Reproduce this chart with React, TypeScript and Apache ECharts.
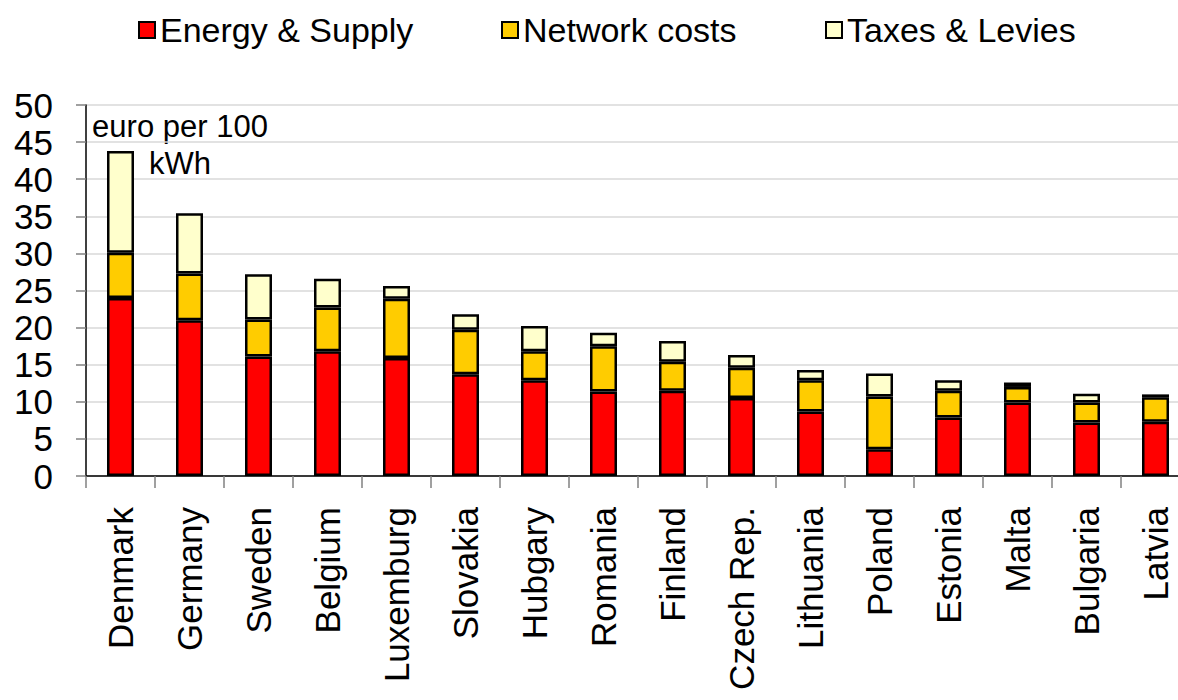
import React, { useEffect, useRef } from "react";
import * as echarts from "echarts";

const categories = [
  "Denmark", "Germany", "Sweden", "Belgium", "Luxemburg", "Slovakia", "Hubgary", "Romania",
  "Finland", "Czech Rep.", "Lithuania", "Poland", "Estonia", "Malta", "Bulgaria", "Latvia",
];
const energySupply = [24.0, 21.0, 16.1, 16.8, 15.9, 13.7, 12.9, 11.4, 11.5, 10.5, 8.7, 3.6, 7.9, 9.9, 7.2, 7.3];
const networkCosts = [6.1, 6.3, 5.0, 5.9, 8.0, 6.0, 3.9, 6.1, 3.9, 4.1, 4.2, 7.1, 3.6, 2.1, 2.7, 3.3];
const taxesLevies = [13.7, 8.1, 6.1, 3.9, 1.7, 2.1, 3.4, 1.8, 2.8, 1.7, 1.4, 3.1, 1.4, 0.6, 1.2, 0.4];
const seriesNames = ["Energy & Supply", "Network costs", "Taxes & Levies"];
const seriesColors = ["#ff0000", "#ffcc00", "#ffffcc"];

const FONT = '"Liberation Sans", Arial, sans-serif';

export default function App() {
  const ref = useRef<HTMLDivElement>(null);
  useEffect(() => {
    if (!ref.current) return;
    const chart = echarts.init(ref.current, null, { renderer: "svg" });
    const data = [energySupply, networkCosts, taxesLevies];
    const legendLefts = [133, 496, 820];
    chart.setOption({
      animation: false,
      backgroundColor: "#ffffff",
      textStyle: { fontFamily: FONT, color: "#000" },
      legend: seriesNames.map((n, i) => ({
        data: [{ name: n, icon: "rect" }],
        left: legendLefts[i],
        top: 8,
        itemWidth: 16,
        itemHeight: 16,
        textStyle: { fontSize: 34, color: "#000", fontFamily: FONT },
      })),
      grid: { left: 86, top: 105, bottom: 224, right: 0 },
      xAxis: {
        type: "category",
        data: categories,
        axisLine: { lineStyle: { color: "#000", width: 1.5 } },
        axisTick: { show: true, length: 12, lineStyle: { color: "#808080", width: 1.5 } },
        axisLabel: { rotate: 90, fontSize: 35, color: "#000", margin: 31, fontFamily: FONT },
      },
      yAxis: {
        type: "value",
        min: 0,
        max: 50,
        interval: 5,
        axisLine: { show: true, lineStyle: { color: "#000", width: 1.5 } },
        axisTick: { show: true, length: 10, lineStyle: { color: "#808080", width: 1.5 } },
        axisLabel: { fontSize: 35, color: "#000", margin: 33, fontFamily: FONT },
        splitLine: { show: true, lineStyle: { color: "#d9d9d9", width: 1.5 } },
      },
      series: seriesNames.map((n, i) => ({
        name: n,
        type: "bar",
        stack: "total",
        data: data[i],
        barWidth: 27,
        itemStyle: { color: seriesColors[i], borderColor: "#000", borderWidth: 2.5 },
      })),
      graphic: [
        {
          type: "text",
          left: 90,
          top: 108,
          style: {
            text: "euro per 100\nkWh",
            font: `31px ${FONT}`,
            fill: "#000",
            textAlign: "center",
            lineHeight: 37,
            width: 180,
          },
        },
      ],
    });
    return () => chart.dispose();
  }, []);
  return (
    <div style={{ position: "fixed", left: 0, top: 0, width: 1178, height: 700, overflow: "hidden", background: "#fff" }}>
      <div ref={ref} style={{ width: 1190, height: 700 }} />
    </div>
  );
}
